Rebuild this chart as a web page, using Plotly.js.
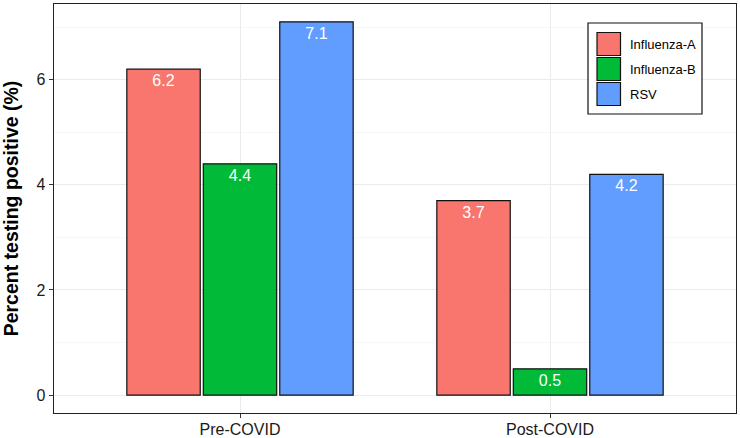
<!DOCTYPE html>
<html>
<head>
<meta charset="utf-8">
<script src="https://cdn.plot.ly/plotly-3.0.1.min.js"></script>
<style>
  html, body { margin: 0; padding: 0; background: #fff; }
  #chart { width: 740px; height: 438px; }
</style>
</head>
<body>
<div id="chart"></div>
<script>
// Testing positivity by virus, before and after COVID
const periods = ['Pre-COVID', 'Post-COVID'];
const viruses = ['Influenza-A', 'Influenza-B', 'RSV'];
const influenzaA = [6.2, 3.7];
const influenzaB = [4.4, 0.5];
const rsv = [7.1, 4.2];
const yTicks = [0, 2, 4, 6];

const seriesValues = [influenzaA, influenzaB, rsv];
const fills = ['#F8766D', '#00BA38', '#619CFF'];

const W = 740, H = 438;
const M = { l: 54, r: 4, t: 4, b: 25 };
const plotW = W - M.l - M.r, plotH = H - M.t - M.b;
const px2x = p => (p - M.l) / plotW;
const px2y = p => (H - M.b - p) / plotH;

const traces = viruses.map((name, i) => ({
  type: 'bar',
  name: name,
  x: periods,
  y: seriesValues[i],
  text: seriesValues[i].map(v => v.toFixed(1)),
  textposition: 'inside',
  insidetextanchor: 'end',
  textangle: 0,
  constraintext: 'none',
  insidetextfont: { family: 'Liberation Sans, Arial, sans-serif', size: 16, color: '#ffffff' },
  marker: { color: fills[i], line: { color: '#111111', width: 1.2 } },
  hoverinfo: 'x+y+name',
  showlegend: false
}));

// Boxed legend at the upper right of the panel
const shapes = [];
const annotations = [];
const box = { x0: 588, x1: 702, y0: 23, y1: 114 };
shapes.push({
  type: 'rect', xref: 'paper', yref: 'paper',
  x0: px2x(box.x0), x1: px2x(box.x1), y0: px2y(box.y1), y1: px2y(box.y0),
  line: { color: '#111111', width: 1.2 }, fillcolor: '#ffffff', layer: 'above'
});
viruses.forEach((name, i) => {
  const top = 32.5 + i * 25;
  shapes.push({
    type: 'rect', xref: 'paper', yref: 'paper',
    x0: px2x(597), x1: px2x(620.5), y0: px2y(top + 23), y1: px2y(top),
    line: { color: '#111111', width: 1.2 }, fillcolor: fills[i], layer: 'above'
  });
  annotations.push({
    xref: 'paper', yref: 'paper', x: px2x(628), y: px2y(top + 11.5),
    xanchor: 'left', yanchor: 'middle', showarrow: false, text: name,
    font: { family: 'Liberation Sans, Arial, sans-serif', size: 13, color: '#000000' }
  });
});

const layout = {
  width: W, height: H,
  margin: M,
  paper_bgcolor: '#ffffff',
  plot_bgcolor: '#ffffff',
  barmode: 'group',
  bargap: 0.26,
  bargroupgap: 0.04,
  font: { family: 'Liberation Sans, Arial, sans-serif', color: '#000000' },
  xaxis: {
    type: 'category',
    range: [-0.6, 1.6],
    showgrid: true, gridcolor: '#EBEBEB', gridwidth: 1,
    showline: true, mirror: true, linecolor: '#222222', linewidth: 1.3,
    ticks: 'outside', ticklen: 4, tickcolor: '#333333', tickwidth: 1,
    ticklabelstandoff: -3,
    tickfont: { size: 16, color: '#1a1a1a' },
    zeroline: false, fixedrange: true,
    automargin: false
  },
  yaxis: {
    range: [-0.34, 7.44],
    tickvals: yTicks,
    ticktext: yTicks.map(String),
    showgrid: true, gridcolor: '#EBEBEB', gridwidth: 1,
    minor: { dtick: 1, tick0: 0, showgrid: true, gridcolor: '#F4F4F4', gridwidth: 0.7, ticks: '' },
    showline: true, mirror: true, linecolor: '#222222', linewidth: 1.3,
    ticks: 'outside', ticklen: 4, tickcolor: '#333333', tickwidth: 1,
    tickfont: { size: 16, color: '#1a1a1a' },
    zeroline: false, fixedrange: true,
    automargin: false,
    title: {
      text: '<b>Percent testing positive (%)</b>',
      font: { size: 19.5, color: '#000000' },
      standoff: 15
    }
  },
  shapes: shapes,
  annotations: annotations
};

Plotly.newPlot('chart', traces, layout, { displayModeBar: false, staticPlot: true });
</script>
</body>
</html>
